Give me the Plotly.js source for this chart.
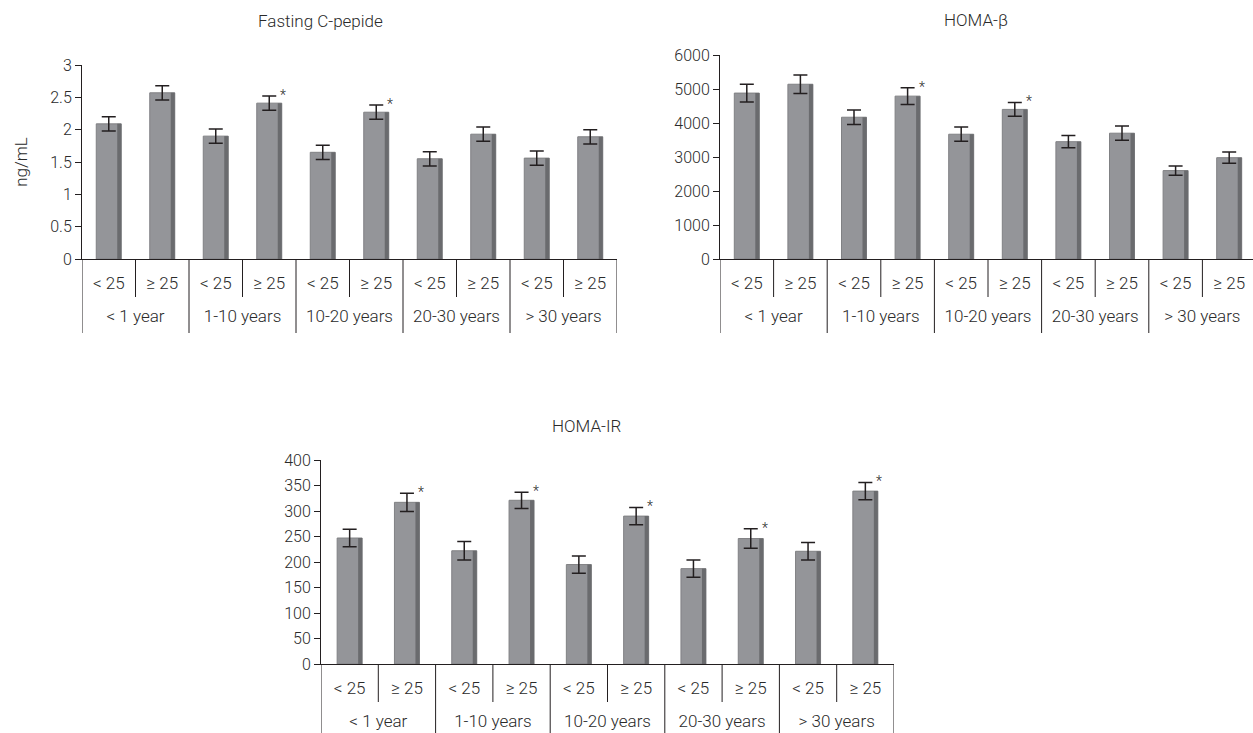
<!DOCTYPE html>
<html>
<head>
<meta charset="utf-8">
<script src="https://cdn.plot.ly/plotly-3.0.1.min.js"></script>
<style>html,body{margin:0;padding:0;background:#fff;}#chart{width:1253px;height:733px;}</style>
</head>
<body>
<div id="chart"></div>
<script>
// ---- data ----
const durationGroups = ['< 1 year','< 1 year','1-10 years','1-10 years','10-20 years','10-20 years','20-30 years','20-30 years','> 30 years','> 30 years'];
const bmiGroups = ['< 25','≥ 25','< 25','≥ 25','< 25','≥ 25','< 25','≥ 25','< 25','≥ 25'];

const cPeptide    = [2.09, 2.57, 1.90, 2.41, 1.65, 2.27, 1.55, 1.93, 1.56, 1.89];
const cPeptideErr = [0.11, 0.11, 0.11, 0.11, 0.11, 0.11, 0.11, 0.11, 0.11, 0.11];
const cPeptideSig = [0, 0, 0, 1, 0, 1, 0, 0, 0, 0];

const homaB    = [4880, 5140, 4170, 4790, 3670, 4400, 3450, 3700, 2600, 2980];
const homaBErr = [260, 270, 215, 245, 210, 205, 180, 210, 135, 165];
const homaBSig = [0, 0, 0, 1, 0, 1, 0, 0, 0, 0];

const homaIR    = [247, 317, 222, 321, 195, 290, 187, 246, 221, 339];
const homaIRErr = [17, 18, 18, 16, 17, 17, 17, 19, 17, 17];
const homaIRSig = [0, 1, 0, 1, 0, 1, 0, 1, 0, 1];

const titles = ['Fasting C-pepide', 'HOMA-β', 'HOMA-IR'];
const yTitle = 'ng/mL';

// ---- derived category positions ----
const catIdx = bmiGroups.map((_, i) => i);
const groupNames = [...new Set(durationGroups)];
const groupCenters = groupNames.map(g => {
  const ii = catIdx.filter(i => durationGroups[i] === g);
  return (ii[0] + ii[ii.length - 1]) / 2;
});
const groupBounds = [-0.5].concat(groupNames.map(g => {
  const ii = catIdx.filter(i => durationGroups[i] === g);
  return ii[ii.length - 1] + 0.5;
}));
const subBounds = catIdx.slice(0, -1).map(i => i + 0.5).filter(b => !groupBounds.includes(b));

// ---- style ----
const W = 1253, H = 733;
const INK = '#231f20';
const TXT = '#2a2a2a';
const BAR = '#949599';
const BAR_EDGE = '#808184';
const BAR_SHADE = '#6a6b6e';
const FONT = 'Roboto, Liberation Sans, Arial, sans-serif';
const WGT = 300;

const panels = [
  {vals: cPeptide, errs: cPeptideErr, sig: cPeptideSig,
   px: [82, 617], py: [65, 259], range: [0, 3], dtick: 0.5, catW: 53.5, barPx: 25,
   title: titles[0], tx: 320, ty: 21},
  {vals: homaB, errs: homaBErr, sig: homaBSig,
   px: [720, 1253], py: [55, 259], range: [0, 6000], dtick: 1000, catW: 53.6, barPx: 25,
   title: titles[1], tx: 976, ty: 20},
  {vals: homaIR, errs: homaIRErr, sig: homaIRSig,
   px: [321, 894], py: [460, 664], range: [0, 400], dtick: 50, catW: 57.3, barPx: 25,
   title: titles[2], tx: 586, ty: 426}
];

const data = [];
const layout = {
  width: W, height: H,
  margin: {l: 0, r: 0, t: 0, b: 0},
  paper_bgcolor: '#fff', plot_bgcolor: '#fff',
  showlegend: false, barmode: 'overlay',
  font: {family: FONT, color: TXT, size: 16, weight: WGT},
  annotations: [], shapes: []
};

const py2paper = v => (H - v) / H;
const tf = s => ({size: s, color: TXT, family: FONT, weight: WGT});

panels.forEach((p, k) => {
  const sfx = k === 0 ? '' : String(k + 1);
  const gsfx = String(k + 4);
  const xr = 'x' + sfx, yr = 'y' + sfx;
  const bw = p.barPx / p.catW;
  const sw = 4 / p.catW;
  data.push({
    type: 'bar', x: catIdx, y: p.vals,
    xaxis: xr, yaxis: yr, width: bw,
    marker: {color: BAR, line: {color: BAR_EDGE, width: 1}},
    error_y: {type: 'data', array: p.errs, visible: true, color: INK, thickness: 1.5, width: 7},
    hoverinfo: 'y'
  });
  data.push({
    type: 'bar', x: catIdx, y: p.vals,
    xaxis: xr, yaxis: yr, width: sw, offset: bw / 2 - sw,
    marker: {color: BAR_SHADE, line: {width: 0}},
    hoverinfo: 'skip'
  });
  // empty carrier trace so the second-level (duration) axis is drawn
  data.push({
    type: 'scatter', mode: 'markers', x: groupCenters, y: groupCenters.map(() => null),
    xaxis: 'x' + gsfx, yaxis: yr, hoverinfo: 'skip', marker: {opacity: 0}
  });

  const xRange = [-0.5, -0.5 + (p.px[1] - p.px[0]) / p.catW];
  layout['xaxis' + sfx] = {
    anchor: yr, domain: [p.px[0] / W, p.px[1] / W], range: xRange,
    tickmode: 'array', tickvals: catIdx, ticktext: bmiGroups,
    showline: true, linecolor: INK, linewidth: 1,
    ticks: 'outside', ticklen: 9, tickcolor: 'rgba(0,0,0,0)',
    showgrid: false, zeroline: false,
    tickfont: tf(17)
  };
  // second level labels (duration groups)
  layout['xaxis' + gsfx] = {
    overlaying: xr, anchor: 'free', position: py2paper(p.py[1] + 45),
    range: xRange, tickmode: 'array', tickvals: groupCenters, ticktext: groupNames,
    showline: false, ticks: '', showgrid: false, zeroline: false,
    tickfont: tf(17)
  };
  layout['yaxis' + sfx] = {
    anchor: xr,
    domain: [py2paper(p.py[1]), py2paper(p.py[0])], range: p.range,
    dtick: p.dtick, tick0: 0, exponentformat: 'none',
    showline: true, linecolor: INK, linewidth: 1,
    ticks: 'outside', ticklen: 6, tickcolor: INK, tickwidth: 1,
    showgrid: false, zeroline: false,
    tickfont: tf(16)
  };

  // category separators below the axis
  groupBounds.forEach(b => layout.shapes.push({type: 'line', xref: xr, yref: 'paper',
    x0: b, x1: b, y0: py2paper(p.py[1]), y1: py2paper(p.py[1] + 74),
    line: {color: INK, width: 1}}));
  subBounds.forEach(b => layout.shapes.push({type: 'line', xref: xr, yref: 'paper',
    x0: b, x1: b, y0: py2paper(p.py[1]), y1: py2paper(p.py[1] + 38),
    line: {color: INK, width: 1}}));

  // significance asterisks
  p.vals.forEach((v, i) => {
    if (p.sig[i]) {
      layout.annotations.push({xref: xr, yref: yr, x: catIdx[i], y: v + p.errs[i],
        text: '*', showarrow: false, xshift: 14, yshift: 1,
        font: tf(14)});
    }
  });

  // panel title
  layout.annotations.push({xref: 'paper', yref: 'paper', x: p.tx / W, y: py2paper(p.ty),
    text: p.title, showarrow: false, xanchor: 'center', yanchor: 'middle',
    font: tf(17)});
});

layout.yaxis.title = {text: yTitle, font: tf(17), standoff: 18};

Plotly.newPlot('chart', data, layout, {displayModeBar: false, staticPlot: true});
</script>
</body>
</html>
